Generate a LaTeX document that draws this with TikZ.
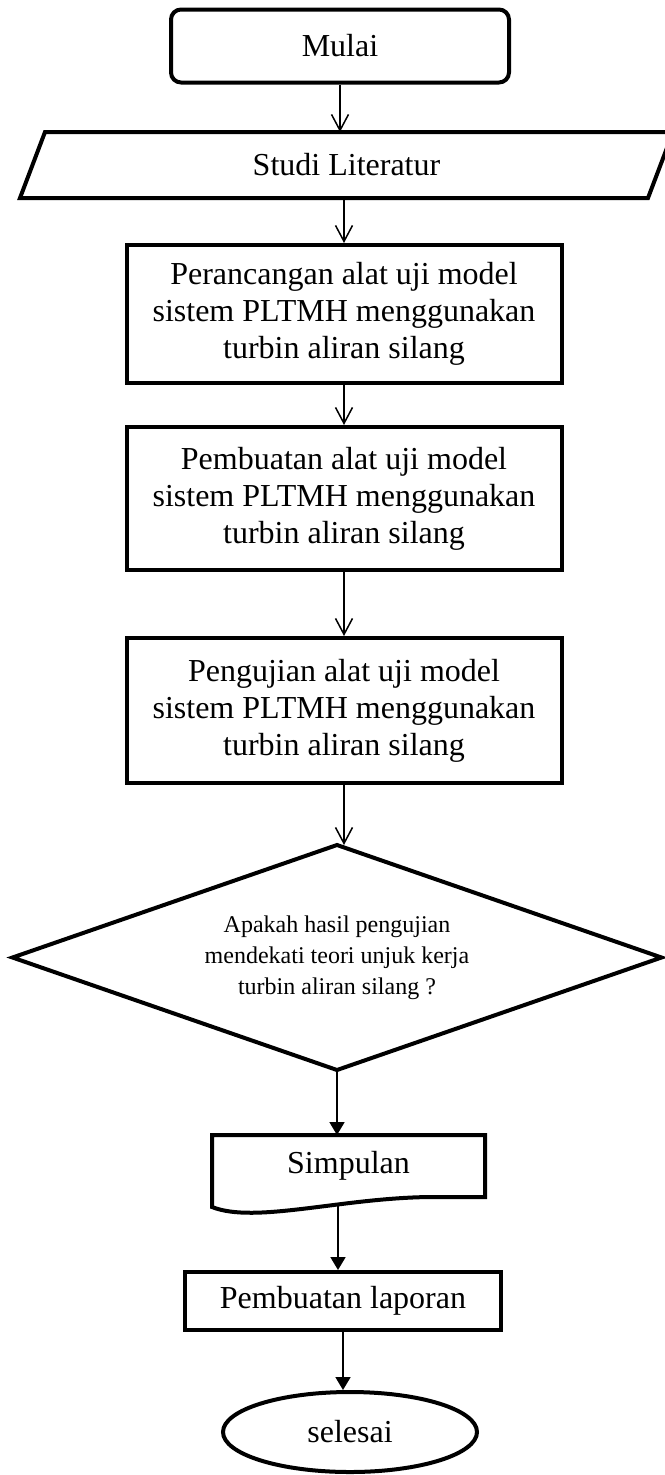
\documentclass[tikz,border=0pt]{standalone}
\usepackage{fontspec}
\setmainfont{Liberation Serif}
\usepackage{tikz}
\usetikzlibrary{shapes,arrows.meta}
\tikzstyle{line} = [draw, line width=1.5pt, -{Straight Barb[length=16pt,width=17pt]}]
\tikzstyle{fline} = [draw, line width=1.8pt, -{Triangle[length=13pt,width=15pt]}]
\tikzstyle{box} = [draw, line width=4pt, rectangle, align=center, font=\fontsize{32}{37}\selectfont]
\tikzstyle{plain} = [outer sep=0pt, align=center, font=\fontsize{32}{37}\selectfont]

\begin{document}
\begin{tikzpicture}[x=1pt, y=-1pt]
		\tikzstyle{every node}+=[inner sep=0pt]
		\useasboundingbox (0,0) rectangle (664,1475);
		\draw (340,46) node [box, rounded corners=10pt, minimum width=338pt, minimum height=73pt] (mulai) {Mulai};
		\draw (346.5,165) node [plain, minimum width=628pt, minimum height=66pt] (studi) {Studi Literatur};
		\draw [line width=4pt] ([xshift=-12.5pt]studi.south west) -- ([xshift=-12.5pt]studi.south east)
		      -- ([xshift=12.5pt]studi.north east) -- ([xshift=12.5pt]studi.north west) -- cycle;
		\draw (344,314) node [box, minimum width=435pt, minimum height=138pt] (rancang) {Perancangan alat uji model\\sistem PLTMH menggunakan\\turbin aliran silang};
		\draw (344,498.5) node [box, minimum width=435pt, minimum height=143pt] (buat) {Pembuatan alat uji model\\sistem PLTMH menggunakan\\turbin aliran silang};
		\draw (344,710.5) node [box, minimum width=435pt, minimum height=145pt] (uji) {Pengujian alat uji model\\sistem PLTMH menggunakan\\turbin aliran silang};
		\draw (337,957.5) node [plain, minimum width=649pt, minimum height=225pt, font=\fontsize{24}{31}\selectfont] (cek) {Apakah hasil pengujian\\mendekati teori unjuk kerja\\turbin aliran silang ?};
		\draw [line width=4pt] (cek.north) -- (cek.east) -- (cek.south) -- (cek.west) -- cycle;
		\draw (348.5,1166) node [plain, minimum width=273pt, minimum height=62pt] (simpulan) {Simpulan};
		\draw [line width=4pt] (simpulan.south east) -- (simpulan.north east) -- (simpulan.north west) -- (212,1207)
		      .. controls (255,1224) and (340,1198) .. (430,1197) -- cycle;
		\coordinate (wave) at (338,1205);
		\draw (343,1301) node [box, minimum width=316pt, minimum height=58pt] (lapor) {Pembuatan laporan};
		\draw (350,1432) node [ellipse, draw, line width=4pt, minimum width=254pt, minimum height=80pt, font=\fontsize{32}{37}\selectfont] (selesai) {selesai};
		\path [line] (mulai.south) -- (mulai.south |- studi.north);
		\path [line] (studi.south -| rancang.north) -- (rancang.north);
		\path [line] (rancang.south) -- (buat.north);
		\path [line] (buat.south) -- (uji.north);
		\path [line] (uji.south) -- (uji.south |- cek.north);
		\path [fline] (cek.south) -- (cek.south |- simpulan.north);
		\path [fline] (wave) -- (wave |- lapor.north);
		\path [fline] (lapor.south) -- (lapor.south |- selesai.north);
\end{tikzpicture}
\end{document}
